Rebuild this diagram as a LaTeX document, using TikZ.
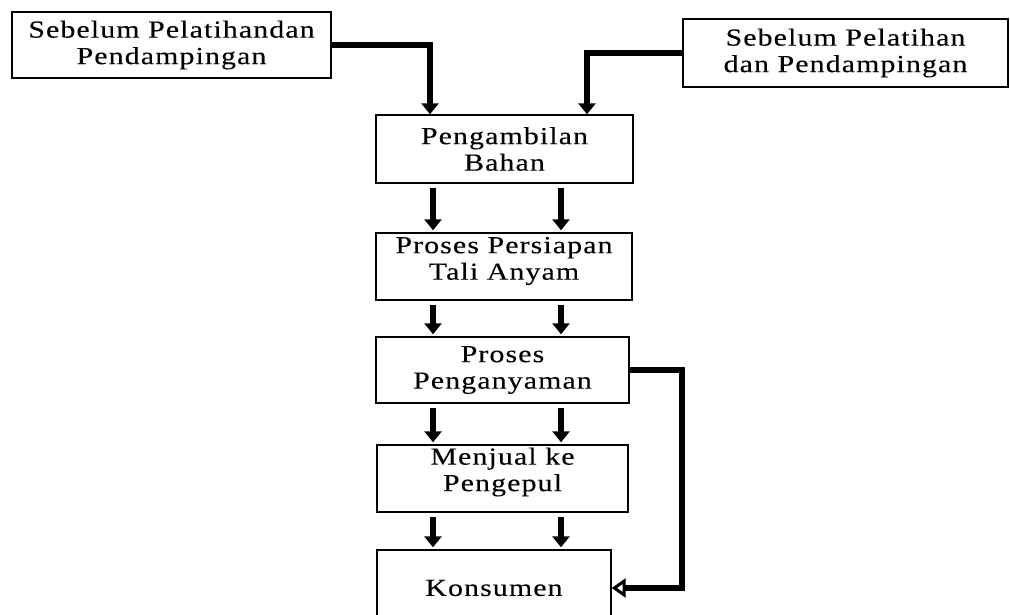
\documentclass[tikz,border=0pt]{standalone}
\usepackage{fontspec}
\setmainfont[FakeStretch=1.22,LetterSpace=4.5,FakeBold=0.15]{Liberation Serif}
\usetikzlibrary{arrows.meta}
\begin{document}
\begin{tikzpicture}[x=1pt,y=-1pt,
  txt/.style={align=center,inner sep=0pt,font=\fontsize{24.5}{26.5}\selectfont},
  box/.style={draw,line width=1.4pt,txt},
  conn/.style={line width=5.2pt,line join=miter,
    -{Triangle[width=17pt,length=11pt]}},
  back/.style={line width=5.2pt,line join=miter,
    -{Triangle[open,width=19pt,length=14pt,line width=3pt]}}]
\clip (0,0) rectangle (1010,614);
\fill[white] (0,0) rectangle (1010,614);
% boxes
\node[box,minimum width=319pt,minimum height=66pt] (A) at (171.5,45) {Sebelum Pelatihandan\\Pendampingan};
\node[box,minimum width=325pt,minimum height=68pt] (B) at (845.5,53) {Sebelum Pelatihan\\dan Pendampingan};
\node[box,minimum width=257pt,minimum height=68pt] (P1) at (504.5,149) {Pengambilan\\Bahan};
\node[box,minimum width=256pt,minimum height=67pt] (P2) at (504,266.5) {};
\node[txt] (P2t) at (504,261) {Proses Persiapan\\Tali Anyam};
\node[box,minimum width=253pt,minimum height=66pt] (P3) at (502.5,370) {Proses\\Penganyaman};
\node[box,minimum width=251pt,minimum height=67pt] (P4) at (502.5,478.5) {};
\node[txt] (P4t) at (502.5,472) {Menjual ke\\Pengepul};
\node[box,minimum width=234pt,minimum height=76pt] (K) at (494,588) {Konsumen};
% helper coordinates
\coordinate (xl) at (433,0);
\coordinate (xr) at (561,0);
\coordinate (ta) at (430,0);
\coordinate (tb) at (587,0);
\coordinate (fb) at (682,0);
% top connectors
\draw[conn] (A.east) -| (P1.north -| ta);
\draw[conn] (B.west) -| (P1.north -| tb);
% vertical arrows
\foreach \s/\t in {P1/P2,P2/P3,P3/P4,P4/K}{
  \draw[conn,shorten <=4pt,shorten >=2pt] (\s.south -| xl) -- (\t.north -| xl);
  \draw[conn,shorten <=4pt,shorten >=2pt] (\s.south -| xr) -- (\t.north -| xr);
}
% feedback
\draw[back] (P3.east) -- (P3.east -| fb) |- (K.east);
\end{tikzpicture}
\end{document}
